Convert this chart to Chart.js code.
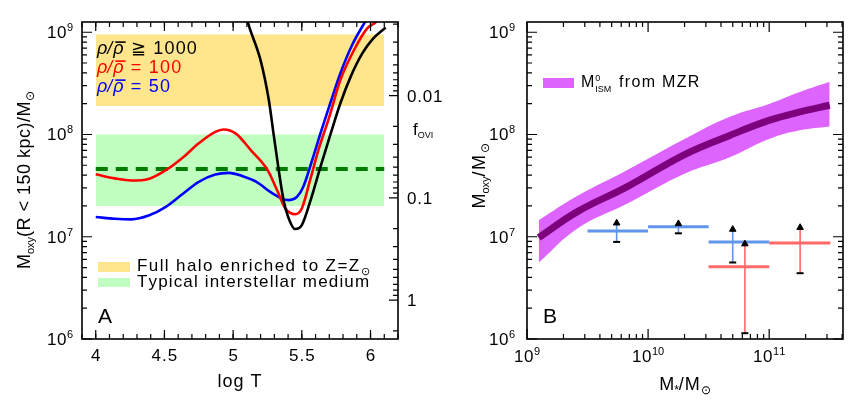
<!DOCTYPE html>
<html>
<head>
<meta charset="utf-8">
<script src="https://cdn.jsdelivr.net/npm/chart.js@4.4.0/dist/chart.umd.min.js"></script>
<style>
    html, body { margin: 0; padding: 0; background: #fff; }
    #wrap { position: relative; width: 858px; height: 407px; overflow: hidden; }
    canvas { position: absolute; top: 0; }
    #panelA { left: 0; }
    #panelB { left: 440px; }
</style>
</head>
<body>
<div id="wrap">
    <canvas id="panelA" width="460" height="407"></canvas>
    <canvas id="panelB" width="418" height="407"></canvas>
</div>
<script>
// ---- Panel A: oxygen mass vs log T ----
const T_1000 = [5.08, 5.10, 5.20, 5.26, 5.294, 5.33, 5.367, 5.40, 5.45, 5.50, 5.56, 5.635, 5.71, 5.78, 5.855, 5.94, 6.02, 6.11];
const M_1000 = [1.8e9, 1.35e9, 5.3e8, 2.16e8, 1.02e8, 4.66e7, 2.28e7, 1.57e7, 1.19e7, 1.30e7, 2.19e7, 4.8e7, 1.02e8, 2.01e8, 3.66e8, 6.2e8, 8.7e8, 1.11e9];

const T_100 = [4.0, 4.14, 4.26, 4.385, 4.51, 4.63, 4.75, 4.87, 4.93, 5.02, 5.13, 5.25, 5.32, 5.38, 5.415, 5.45, 5.50, 5.56, 5.62, 5.70, 5.78, 5.88, 5.976, 6.04, 6.08];
const M_100 = [4.09e7, 3.72e7, 3.55e7, 3.68e7, 4.48e7, 5.9e7, 8.2e7, 1.06e8, 1.12e8, 1.02e8, 7.0e7, 4.5e7, 2.85e7, 1.89e7, 1.71e7, 1.66e7, 1.89e7, 3.57e7, 7.0e7, 1.49e8, 3.4e8, 6.7e8, 1.09e9, 1.26e9, 1.5e9];

const T_50 = [4.0, 4.14, 4.26, 4.385, 4.51, 4.63, 4.75, 4.87, 4.97, 5.07, 5.17, 5.27, 5.34, 5.40, 5.465, 5.51, 5.575, 5.635, 5.71, 5.78, 5.866, 5.96, 6.02];
const M_50 = [1.56e7, 1.5e7, 1.48e7, 1.61e7, 1.96e7, 2.6e7, 3.44e7, 4.06e7, 4.21e7, 3.91e7, 3.44e7, 2.75e7, 2.42e7, 2.28e7, 2.46e7, 3.07e7, 5.6e7, 1.02e8, 2.08e8, 3.95e8, 7.5e8, 1.26e9, 1.7e9];

const bandT = [4.0, 6.1];
const haloBand = [1.9e8, 9.5e8];   // full halo enriched to solar
const ismBand = [2.0e7, 1.0e8];    // typical ISM
const ismTypical = 4.6e7;

const tMajor = [4, 4.5, 5, 5.5, 6];
const tLabels = ['4', '4.5', '5', '5.5', '6'];
const fMajor = [0.01, 0.1, 1];
const fLabels = ['0.01', '0.1', '1'];
const fRef = 2.4e6;               // M_oxy where f_OVI = 1

// ---- Panel B: oxygen mass vs stellar mass ----
const mStar = [1.25e9, 2.59e9, 6.68e9, 2.02e10, 4.73e10, 1.01e11, 1.79e11, 3.16e11];
const mzrMid = [9.8e6, 1.75e7, 3.07e7, 6.4e7, 9.8e7, 1.38e8, 1.66e8, 1.93e8];
const mzrHi = [1.45e7, 2.5e7, 4.48e7, 9.1e7, 1.49e8, 2.0e8, 2.6e8, 3.27e8];
const mzrLo = [5.6e6, 1.2e7, 2.1e7, 4.16e7, 6.0e7, 9.1e7, 1.1e8, 1.2e8];

const binLo = [3.16e9, 1e10, 3.16e10, 3.16e10, 1e11];
const binHi = [1e10, 3.16e10, 1e11, 1e11, 3.2e11];
const binMass = [1.14e7, 1.25e7, 8.9e6, 5.1e6, 8.7e6];
const errX = [5.5e9, 1.78e10, 5.0e10, 6.3e10, 1.8e11];
const errLow = [8.9e6, 1.08e7, 5.6e6, 1.14e6, 4.4e6];
const errTip = [1.36e7, 1.34e7, 1.18e7, 8.5e6, 1.23e7];
const binSample = ['blue', 'blue', 'blue', 'red', 'red'];

const decades = [1e6, 1e7, 1e8, 1e9];
const decadeExp = ['6', '7', '8', '9'];
const mStarMajor = [1e9, 1e10, 1e11];
const mStarExp = ['9', '10', '11'];

const FONT = '"Liberation Sans", Arial, sans-serif';
const Y_MIN = 1e6, Y_MAX = 1.259e9;
const colors = { blue: 'rgb(95,150,235)', red: 'rgb(255,105,105)' };

function xy(xs, ys) { return xs.map((v, i) => ({ x: v, y: ys[i] })); }
function flat(x0, x1, v) { return [{ x: x0, y: v }, { x: x1, y: v }]; }

function logMinors(lo, hi) {
    const out = [];
    for (let d = 1e-4; d < 1e13; d *= 10) {
        for (let k = 2; k <= 9; k++) {
            const v = k * d;
            if (v >= lo && v <= hi) out.push(v);
        }
    }
    return out;
}

function ticks(ctx, scale, vals, len, side, a) {
    ctx.beginPath();
    vals.forEach(v => {
        const p = scale.getPixelForValue(v);
        if (side === 'bottom') { ctx.moveTo(p, a.bottom); ctx.lineTo(p, a.bottom - len); }
        if (side === 'top') { ctx.moveTo(p, a.top); ctx.lineTo(p, a.top + len); }
        if (side === 'left') { ctx.moveTo(a.left, p); ctx.lineTo(a.left + len, p); }
        if (side === 'right') { ctx.moveTo(a.right, p); ctx.lineTo(a.right - len, p); }
    });
    ctx.stroke();
}

// draw a line of mixed text (sub/superscripts, italics, overline)
function rich(ctx, parts, x, y, align, color) {
    const widths = parts.map(p => {
        if (p.stack) {
            ctx.font = (p.s || 10) + 'px ' + FONT;
            return Math.max(ctx.measureText(p.stack[0]).width, ctx.measureText(p.stack[1]).width) + 3;
        }
        ctx.font = (p.i ? 'italic ' : '') + (p.s || 16) + 'px ' + FONT;
        let w = 0;
        for (const ch of p.t) w += ctx.measureText(ch).width + (p.ls || 0);
        return w;
    });
    const total = widths.reduce((s, w) => s + w, 0);
    let cx = align === 'center' ? x - total / 2 : align === 'right' ? x - total : x;
    ctx.textAlign = 'left';
    ctx.textBaseline = 'alphabetic';
    parts.forEach((p, k) => {
        ctx.fillStyle = p.c || color || '#000';
        if (p.stack) {
            ctx.font = (p.s || 10) + 'px ' + FONT;
            ctx.fillText(p.stack[0], cx + 1, y - 6);
            ctx.fillText(p.stack[1], cx + 1, y + 5);
        } else {
            ctx.font = (p.i ? 'italic ' : '') + (p.s || 16) + 'px ' + FONT;
            let px = cx;
            for (const ch of p.t) {
                ctx.fillText(ch, px, y + (p.dy || 0));
                px += ctx.measureText(ch).width + (p.ls || 0);
            }
            if (p.over) {
                ctx.strokeStyle = ctx.fillStyle;
                ctx.lineWidth = 1.6;
                ctx.beginPath();
                ctx.moveTo(cx + 2, y - (p.s || 16) * 0.66);
                ctx.lineTo(cx + widths[k] + 1, y - (p.s || 16) * 0.66);
                ctx.stroke();
            }
        }
        cx += widths[k];
    });
}

function decadeLabel(exp) { return [{ t: '10', s: 17, ls: 0.5 }, { t: exp, s: 11, dy: -7 }]; }

function fitAxis(prop, size) { return s => { s[prop] = size; }; }
const hidden = { grid: { display: false }, border: { display: false }, ticks: { display: false } };

// ---------------- Panel A ----------------
const panelAPlugin = {
    id: 'panelADecor',
    afterDraw(chart) {
        const { ctx, chartArea: a, scales: { x, y, yf } } = chart;
        ctx.save();
        ctx.strokeStyle = '#000';
        ctx.lineWidth = 1.2;
        const tMinor = [];
        for (let i = 39; i <= 62; i++) tMinor.push(i / 10);
        ['bottom', 'top'].forEach(side => {
            ticks(ctx, x, tMinor, 5, side, a);
            ticks(ctx, x, tMajor, 9, side, a);
        });
        ticks(ctx, y, logMinors(Y_MIN, Y_MAX), 5, 'left', a);
        ticks(ctx, y, decades, 10, 'left', a);
        ticks(ctx, yf, logMinors(yf.min, yf.max), 5, 'right', a);
        ticks(ctx, yf, fMajor, 9, 'right', a);
        ctx.lineWidth = 1.6;
        ctx.strokeRect(a.left, a.top, a.right - a.left, a.bottom - a.top);

        // tick labels
        tMajor.forEach((v, i) => rich(ctx, [{ t: tLabels[i], s: 17, ls: 1 }], x.getPixelForValue(v) + 0.5, a.bottom + 22, 'center'));
        decades.forEach((v, i) => rich(ctx, decadeLabel(decadeExp[i]), a.left - 9, y.getPixelForValue(v) + 6, 'right'));
        fMajor.forEach((v, i) => rich(ctx, [{ t: fLabels[i], s: 17, ls: 0.8 }], a.right + 9, yf.getPixelForValue(v) + 6, 'left'));
        rich(ctx, [{ t: 'f', s: 17 }, { t: 'OVI', s: 9, dy: 3 }], a.right + 15, 135, 'left');

        // axis titles
        rich(ctx, [{ t: 'log T', s: 18, ls: 1 }], (a.left + a.right) / 2, 387, 'center');
        ctx.save();
        ctx.translate(30, 180);
        ctx.rotate(-Math.PI / 2);
        rich(ctx, [{ t: 'M', s: 18 }, { t: 'oxy', s: 11, dy: 4 }, { t: '(R < 150 kpc)/M', s: 18, ls: 0.5 }, { t: '⊙', s: 12, dy: 4 }], 0, 0, 'center');
        ctx.restore();

        // density legend
        const rho = c => [{ t: 'ρ', s: 18, i: true, c }, { t: '/', s: 18, i: true, c, ls: 1 }, { t: 'ρ', s: 18, i: true, over: true, c, ls: 1 }];
        rich(ctx, rho('#000').concat([{ t: ' ≧ 1000', s: 18, ls: 1.2 }]), a.left + 15, 54, 'left', '#000');
        rich(ctx, rho('#f00').concat([{ t: ' = 100', s: 18, ls: 1.2 }]), a.left + 15, 73, 'left', '#f00');
        rich(ctx, rho('#00f').concat([{ t: ' = 50', s: 18, ls: 1.2 }]), a.left + 15, 92, 'left', '#00f');

        // band legend
        ctx.fillStyle = 'rgb(255,230,140)';
        ctx.fillRect(a.left + 16, 262, 32, 10);
        ctx.fillStyle = 'rgb(192,255,192)';
        ctx.fillRect(a.left + 16, 278, 32, 9);
        rich(ctx, [{ t: 'Full halo enriched to Z=Z', s: 17, ls: 1.4 }, { t: '⊙', s: 11, dy: 4 }], a.left + 55, 271, 'left');
        rich(ctx, [{ t: 'Typical interstellar medium', s: 17, ls: 1.15 }], a.left + 55, 287, 'left');
        rich(ctx, [{ t: 'A', s: 21 }], a.left + 16, 323, 'left');
        ctx.restore();
    }
};

const curve = (xs, ys, color) => ({
    data: xy(xs, ys), borderColor: color, borderWidth: 2.6,
    pointRadius: 0, cubicInterpolationMode: 'monotone', fill: false
});

new Chart(document.getElementById('panelA'), {
    type: 'line',
    data: {
        datasets: [
            curve(T_1000, M_1000, '#000'),
            curve(T_100, M_100, '#f00'),
            curve(T_50, M_50, '#00f'),
            { data: flat(bandT[0], bandT[1], ismTypical), borderColor: 'rgb(0,125,0)', borderWidth: 4, borderDash: [12, 8], pointRadius: 0, fill: false },
            { data: flat(bandT[0], bandT[1], ismBand[1]), borderWidth: 0, pointRadius: 0, fill: '+1', backgroundColor: 'rgb(192,255,192)' },
            { data: flat(bandT[0], bandT[1], ismBand[0]), borderWidth: 0, pointRadius: 0, fill: false },
            { data: flat(bandT[0], bandT[1], haloBand[1]), borderWidth: 0, pointRadius: 0, fill: '+1', backgroundColor: 'rgb(255,230,140)' },
            { data: flat(bandT[0], bandT[1], haloBand[0]), borderWidth: 0, pointRadius: 0, fill: false }
        ]
    },
    options: {
        responsive: false,
        animation: false,
        layout: { padding: { top: 22, left: 0, right: 0, bottom: 0 }, autoPadding: false },
        plugins: { legend: { display: false }, tooltip: { enabled: false } },
        scales: {
            x: { type: 'linear', min: 3.9, max: 6.2, ...hidden, afterFit: fitAxis('height', 68) },
            y: { type: 'logarithmic', min: Y_MIN, max: Y_MAX, ...hidden, afterFit: fitAxis('width', 82) },
            yf: { type: 'logarithmic', position: 'right', reverse: true, min: fRef / Y_MAX, max: fRef / Y_MIN, ...hidden, afterFit: fitAxis('width', 62) }
        }
    },
    plugins: [panelAPlugin]
});

// ---------------- Panel B ----------------
const panelBPlugin = {
    id: 'panelBDecor',
    afterDraw(chart) {
        const { ctx, chartArea: a, scales: { x, y } } = chart;
        ctx.save();
        ctx.strokeStyle = '#000';
        ctx.lineWidth = 1.2;
        ['bottom', 'top'].forEach(side => {
            ticks(ctx, x, logMinors(x.min, x.max), 5, side, a);
            ticks(ctx, x, mStarMajor, 10, side, a);
        });
        ['left', 'right'].forEach(side => {
            ticks(ctx, y, logMinors(Y_MIN, Y_MAX), 5, side, a);
            ticks(ctx, y, decades, 10, side, a);
        });
        ctx.lineWidth = 1.6;
        ctx.strokeRect(a.left, a.top, a.right - a.left, a.bottom - a.top);

        mStarMajor.forEach((v, i) => rich(ctx, decadeLabel(mStarExp[i]), x.getPixelForValue(v), a.bottom + 23, 'center'));
        decades.forEach((v, i) => rich(ctx, decadeLabel(decadeExp[i]), a.left - 12, y.getPixelForValue(v) + 6, 'right'));

        rich(ctx, [{ t: 'M', s: 18 }, { t: '*', s: 12, dy: 4 }, { t: '/M', s: 18, ls: 1 }, { t: '⊙', s: 12, dy: 4 }], (a.left + a.right) / 2, 390, 'center');
        ctx.save();
        ctx.translate(45, 176);
        ctx.rotate(-Math.PI / 2);
        rich(ctx, [{ t: 'M', s: 18 }, { t: 'oxy', s: 11, dy: 4 }, { t: '/M', s: 18, ls: 1.5 }, { t: '⊙', s: 12, dy: 4 }], 0, 0, 'center');
        ctx.restore();

        ctx.fillStyle = 'rgb(222,100,255)';
        ctx.fillRect(a.left + 16, 78, 31, 10);
        rich(ctx, [{ t: 'M', s: 16 }, { stack: ['0', 'ISM'], s: 9 }, { t: ' from MZR', s: 16, ls: 1.3 }], a.left + 54, 87, 'left');
        rich(ctx, [{ t: 'B', s: 21 }], a.left + 16, 323, 'left');
        ctx.restore();
    }
};

const binBars = binLo.map((lo, i) => ({
    data: flat(lo, binHi[i], binMass[i]), borderColor: colors[binSample[i]],
    borderWidth: 3, pointRadius: 0, fill: false
}));
const errLines = errX.map((ex, i) => ({
    data: [{ x: ex, y: errLow[i] }, { x: ex, y: errTip[i] }], borderColor: colors[binSample[i]],
    borderWidth: 1.6, pointRadius: 0, fill: false
}));

new Chart(document.getElementById('panelB'), {
    type: 'line',
    data: {
        datasets: [
            { data: xy(errX, errTip), showLine: false, pointStyle: 'triangle', pointRadius: 3.8, backgroundColor: '#000', borderColor: '#000', borderWidth: 1 },
            { data: xy(errX, errLow), showLine: false, pointStyle: 'line', pointRadius: 3.5, borderColor: '#000', borderWidth: 2 },
            ...errLines,
            ...binBars,
            { data: xy(mStar, mzrMid), borderColor: 'rgb(125,0,125)', borderWidth: 7, pointRadius: 0, tension: 0.4, fill: false },
            { data: xy(mStar, mzrHi), borderWidth: 0, pointRadius: 0, tension: 0.4, fill: '+1', backgroundColor: 'rgb(222,100,255)' },
            { data: xy(mStar, mzrLo), borderWidth: 0, pointRadius: 0, tension: 0.4, fill: false }
        ]
    },
    options: {
        responsive: false,
        animation: false,
        layout: { padding: { top: 22, left: 0, right: 15, bottom: 0 }, autoPadding: false },
        plugins: { legend: { display: false }, tooltip: { enabled: false } },
        scales: {
            x: { type: 'logarithmic', min: 1e9, max: 4.07e11, ...hidden, afterFit: fitAxis('height', 68) },
            y: { type: 'logarithmic', min: Y_MIN, max: Y_MAX, ...hidden, afterFit: fitAxis('width', 87) }
        }
    },
    plugins: [panelBPlugin]
});
</script>
</body>
</html>
